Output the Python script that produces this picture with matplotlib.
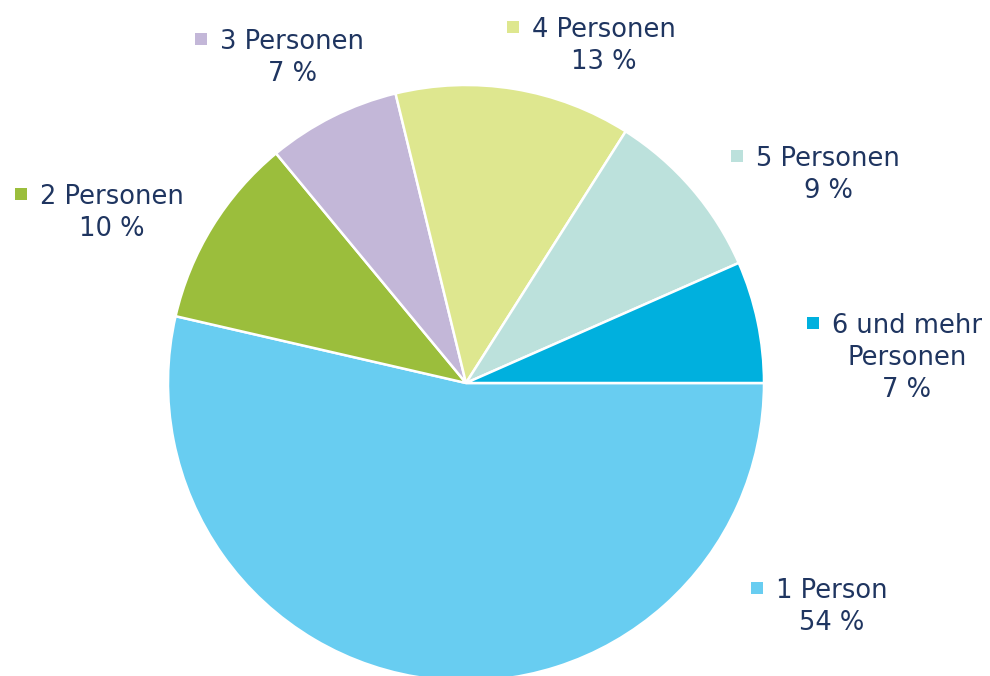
import matplotlib
matplotlib.use("Agg")
import matplotlib.pyplot as plt

categories = ["1 Person", "2 Personen", "3 Personen", "4 Personen", "5 Personen", "6 und mehr\nPersonen"]
shares = [53.6, 10.4, 7.2, 12.8, 9.4, 6.6]
pct_labels = ["54 %", "10 %", "7 %", "13 %", "9 %", "7 %"]
colors = ["#68CDF1", "#9BBE3C", "#C3B7D8", "#DEE78F", "#BCE1DC", "#00B0DE"]

# label layout (pixel coords from top-left): text centre x, first baseline y
label_pos = [(832, 598), (112, 204), (292, 49), (604, 37), (828, 166), (907, 333)]

W, H = 990, 676
fig = plt.figure(figsize=(W / 100, H / 100), dpi=100)
ax = fig.add_axes([0, 0, 1, 1])
ax.set_xlim(0, W)
ax.set_ylim(0, H)
ax.set_aspect("equal")
ax.axis("off")

ax.pie(shares, colors=colors, startangle=0, counterclock=False,
       center=(466, H - 383), radius=298, frame=True,
       wedgeprops=dict(edgecolor="white", linewidth=1.8))
ax.set_xlim(0, W)
ax.set_ylim(0, H)
ax.axis("off")

txt_color = "#1F3560"
fs = 18.5
lh = 32
fig.canvas.draw()
renderer = fig.canvas.get_renderer()
for cat, pct, col, (cx, by) in zip(categories, pct_labels, colors, label_pos):
    lines = cat.split("\n") + [pct]
    first = None
    for i, ln in enumerate(lines):
        t = ax.text(cx, H - (by + i * lh), ln, ha="center", va="baseline",
                    fontsize=fs, color=txt_color, family="DejaVu Sans")
        if i == 0:
            first = t
    bb = first.get_window_extent(renderer=renderer)
    mx = bb.x0 - 13 - 6
    my = H - (by - 10)
    ax.plot([mx], [my], marker="s", markersize=8.5, color=col, markeredgewidth=0)

fig.savefig("out.png", dpi=100)
